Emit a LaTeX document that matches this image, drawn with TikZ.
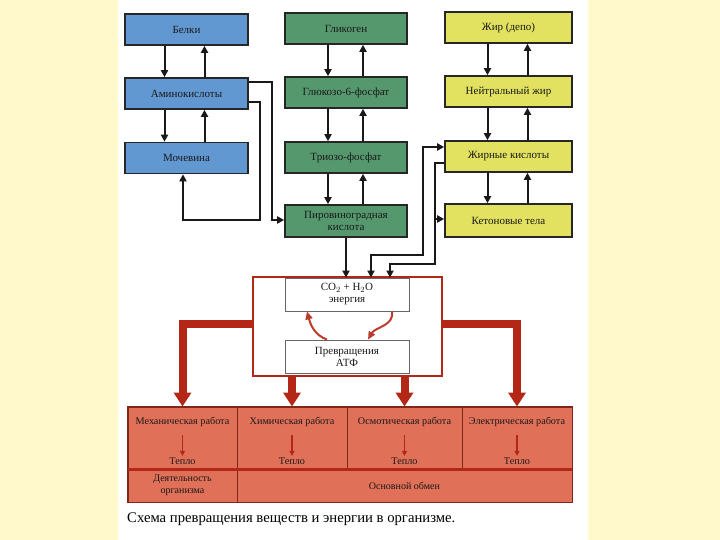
\documentclass[tikz,border=0pt]{standalone}
\usepackage{fontspec}
\setmainfont{Liberation Serif}
\usetikzlibrary{arrows.meta}
\definecolor{bgyel}{RGB}{255,249,204}
\definecolor{bluefill}{RGB}{98,152,210}
\definecolor{greenfill}{RGB}{86,152,110}
\definecolor{yelfill}{RGB}{226,226,96}
\definecolor{salmon}{RGB}{224,112,88}
\definecolor{darkred}{RGB}{180,38,22}
\definecolor{tabline}{RGB}{125,40,25}
\definecolor{txt}{RGB}{25,25,25}
\begin{document}
\begin{tikzpicture}[x=1pt,y=-1pt,
  box/.style={draw=black!85, line width=1.6pt, inner sep=1pt, align=center,
    font=\fontsize{11}{12}\selectfont, text=txt},
  bluebox/.style={box, fill=bluefill, minimum width=123pt, minimum height=31pt},
  greenbox/.style={box, fill=greenfill, minimum width=122pt, minimum height=31pt},
  yelbox/.style={box, fill=yelfill, minimum width=127pt, minimum height=31pt},
  whitebox/.style={box, fill=white, draw=black!60, line width=0.8pt, minimum width=124pt, minimum height=33pt},
  arr/.style={draw=black!90, line width=2pt, -{Triangle[length=7pt,width=7pt]}},
  biarr/.style={draw=black!90, line width=2pt, {Triangle[length=7pt,width=7pt]}-{Triangle[length=7pt,width=7pt]}},
  thickarr/.style={draw=darkred, line width=8pt, line join=miter, -{Triangle[length=14pt,width=17pt]}},
  curvearr/.style={draw=darkred!90, line width=2pt, -{Triangle[length=8pt,width=7pt]}},
  cell/.style={draw=tabline, line width=0.9pt, fill=salmon, inner sep=1pt, align=center,
    font=\fontsize{10}{12}\selectfont, text=txt},
  worktxt/.style={inner sep=0pt, font=\fontsize{10.2}{11}\selectfont, text=txt},
  smallarr/.style={draw=darkred, line width=1.4pt, -{Triangle[length=5pt,width=5pt]}}
]
\useasboundingbox (0,0) rectangle (720,540);
\fill[bgyel] (0,0) rectangle (720,540);
\fill[white] (118,0) rectangle (588,540);

% blue column
\node[bluebox] (belki) at (186.5,29.5) {Белки};
\node[bluebox] (amino) at (186.5,93.5) {Аминокислоты};
\node[bluebox] (moch) at (186.5,158) {Мочевина};
% green column
\node[greenbox] (glyc) at (346,28.5) {Гликоген};
\node[greenbox] (g6p) at (346,92.5) {Глюкозо-6-фосфат};
\node[greenbox] (trio) at (346,157.5) {Триозо-фосфат};
\node[greenbox, minimum height=32pt] (pyr) at (346,221) {Пировиноградная\\кислота};
% yellow column
\node[yelbox] (fat) at (508.5,27.5) {Жир (депо)};
\node[yelbox] (neut) at (508.5,91.5) {Нейтральный жир};
\node[yelbox] (facid) at (508.5,156.5) {Жирные кислоты};
\node[yelbox, minimum height=33pt] (keton) at (508.5,220.5) {Кетоновые тела};

% vertical arrows
\foreach \a/\b/\d/\u in {belki/amino/-22/18, amino/moch/-22/18,
  glyc/g6p/-18/17, g6p/trio/-18/17, trio/pyr/-18/17,
  fat/neut/-21/19, neut/facid/-21/19, facid/keton/-21/19}{
  \draw[arr] ([xshift=\d pt]\a.south) -- ([xshift=\d pt]\b.north);
  \draw[arr] ([xshift=\u pt]\b.north) -- ([xshift=\u pt]\a.south);
}

% central block
\node[draw=darkred, line width=2.6pt, minimum width=189pt, minimum height=99pt, inner sep=0pt] (core) at (347.5,326.5) {};
\node[whitebox] (co2) at (347,294.5) {CO$_2$ + H$_2$O\\энергия};
\node[whitebox] (atp) at (347,356.5) {Превращения\\АТФ};
\draw[curvearr] ([xshift=-20pt]atp.north) to[out=160,in=-75] ([xshift=-40pt]co2.south);
\draw[curvearr] ([xshift=45pt]co2.south) to[out=-80,in=60] ([xshift=21pt]atp.north);

% connectors
\draw[arr] ([yshift=11.5pt]amino.east) -| (272,220) -- ([yshift=1pt]pyr.west);
\draw[arr] ([yshift=-8.5pt]amino.east) -| (260,220) -| ([xshift=-3.5pt]moch.south);
\draw[arr] (pyr.south) -- (pyr.south |- co2.north);
\draw[biarr] ([xshift=24pt]co2.north) |- (423,255) |- ([yshift=9.5pt]facid.west);
\draw[arr] ([yshift=-6.5pt]facid.west) -| (435,264) -| ([xshift=43pt]co2.north);
\coordinate (kb) at (435,219);
\draw[arr] (kb) -- (kb -| keton.west);

% table
\node[cell, minimum width=109pt, minimum height=62pt] (mech) at (182.5,438) {};
\node[cell, minimum width=110pt, minimum height=62pt] (chem) at (292,438) {};
\node[cell, minimum width=115pt, minimum height=62pt] (osm) at (404.5,438) {};
\node[cell, minimum width=110pt, minimum height=62pt] (elec) at (517,438) {};
\node[cell, minimum width=109pt, minimum height=33pt] (act) at (182.5,485.5) {Деятельность\\организма};
\node[cell, minimum width=335pt, minimum height=33pt] (basal) at (404.5,485.5) {Основной обмен};
\draw[darkred, line width=2.4pt] (mech.south west) -- (elec.south east);
\draw[tabline, line width=1.3pt] (mech.north west) rectangle (basal.south east);

\foreach \c/\t in {mech/Механическая работа, chem/Химическая работа, osm/Осмотическая работа, elec/Электрическая работа}{
  \node[worktxt] (\c t) at ([yshift=-15pt]\c.north) {\t};
  \node[worktxt] (\c h) at ([yshift=8pt]\c.south) {Тепло};
  \draw[smallarr] ([yshift=-9pt]\c t.south) -- ([yshift=2pt]\c h.north);
}

% thick arrows
\draw[thickarr] ([yshift=2.5pt]core.west) -| (mech.north);
\draw[thickarr] (core.south -| chem.north) -- (chem.north);
\draw[thickarr] (core.south -| osm.north) -- (osm.north);
\draw[thickarr] ([yshift=2.5pt]core.east) -| (elec.north);

% caption
\node[anchor=west, inner sep=0pt, font=\fontsize{14.7}{16}\selectfont] (cap) at (127,519) {Схема превращения веществ и энергии в организме.};
\end{tikzpicture}
\end{document}
